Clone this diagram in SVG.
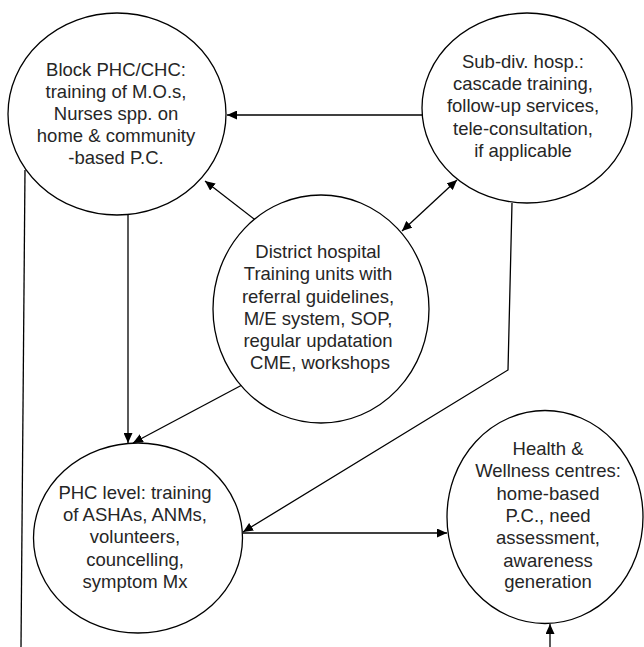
<svg xmlns="http://www.w3.org/2000/svg" width="644" height="647" viewBox="0 0 644 647">
<style>
.node ellipse{fill:#fff;stroke:#000;stroke-width:1.3}
.node text{font-family:"Liberation Sans",Arial,sans-serif;font-size:18.5px;fill:#262626;text-anchor:middle}
.edge{fill:none;stroke:#000;stroke-width:1.3}
</style>
<defs>
<marker id="arr" markerUnits="userSpaceOnUse" markerWidth="11" markerHeight="9" refX="10" refY="4.5" orient="auto-start-reverse" viewBox="0 0 11 9">
<path d="M0,0 L10,4.5 L0,9 z" fill="#000"/>
</marker>
</defs>
<rect width="644" height="647" fill="#fff"/>
<g id="connectors">
<line class="edge" x1="422" y1="115" x2="227" y2="115" marker-end="url(#arr)"/>
<line class="edge" x1="258" y1="222" x2="205" y2="181" marker-end="url(#arr)"/>
<line class="edge" x1="402" y1="231" x2="457" y2="180" marker-start="url(#arr)" marker-end="url(#arr)"/>
<line class="edge" x1="128" y1="215" x2="128" y2="443" marker-end="url(#arr)"/>
<line class="edge" x1="242" y1="385" x2="133" y2="443" marker-end="url(#arr)"/>
<polyline class="edge" points="512,203 508,370 243,532" marker-end="url(#arr)"/>
<line class="edge" x1="243" y1="533" x2="447" y2="533" marker-end="url(#arr)"/>
<line class="edge" x1="25" y1="170" x2="21" y2="647"/>
<line class="edge" x1="550" y1="647" x2="550" y2="624" marker-end="url(#arr)"/>
</g>
<g id="block-phc" class="node">
<ellipse cx="117" cy="114" rx="109" ry="101"/>
<text x="116" y="76">Block PHC/CHC:</text>
<text x="116" y="98">training of M.O.s,</text>
<text x="116" y="120">Nurses spp. on</text>
<text x="116" y="142">home &amp; community</text>
<text x="116" y="164">-based P.C.</text>
</g>
<g id="subdiv-hosp" class="node">
<ellipse cx="527" cy="108" rx="105" ry="95"/>
<text x="523" y="68">Sub-div. hosp.:</text>
<text x="523" y="90">cascade training,</text>
<text x="523" y="112">follow-up services,</text>
<text x="523" y="135">tele-consultation,</text>
<text x="523" y="157">if applicable</text>
</g>
<g id="district-hospital" class="node">
<ellipse cx="321" cy="309" rx="108" ry="114"/>
<text x="318" y="258">District hospital</text>
<text x="318" y="280">Training units with</text>
<text x="318" y="303">referral guidelines,</text>
<text x="318" y="325">M/E system, SOP,</text>
<text x="318" y="347">regular updatation</text>
<text x="320" y="369">CME, workshops</text>
</g>
<g id="phc-level" class="node">
<ellipse cx="138" cy="538" rx="104.5" ry="95"/>
<text x="135" y="499">PHC level: training</text>
<text x="135" y="521">of ASHAs, ANMs,</text>
<text x="135" y="543">volunteers,</text>
<text x="135" y="566">councelling,</text>
<text x="135" y="588">symptom Mx</text>
</g>
<g id="hwc" class="node">
<ellipse cx="545" cy="517" rx="98" ry="106.5"/>
<text x="548" y="455">Health &amp;</text>
<text x="548" y="477">Wellness centres:</text>
<text x="548" y="500">home-based</text>
<text x="548" y="522">P.C., need</text>
<text x="548" y="544">assessment,</text>
<text x="548" y="567">awareness</text>
<text x="548" y="588">generation</text>
</g>
</svg>
